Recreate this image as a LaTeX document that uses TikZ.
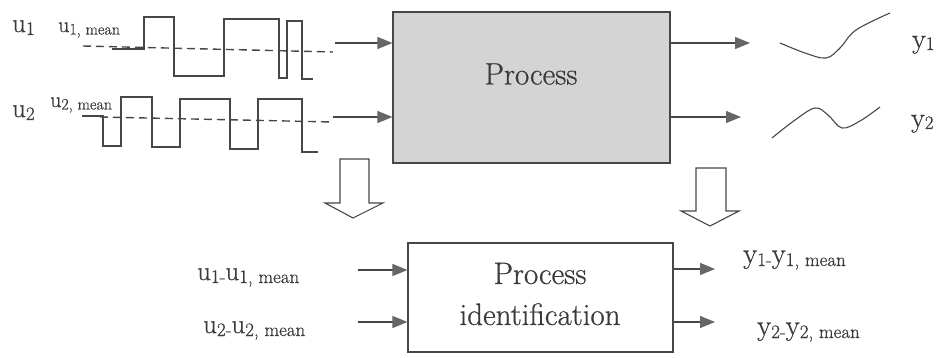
\documentclass[tikz,border=0pt]{standalone}
\usepackage{fontspec}
\setmainfont{Latin Modern Roman}
\newfontfamily\tms[FakeBold=0.6]{Latin Modern Roman}
\usetikzlibrary{arrows.meta}

% text with a lowered, smaller subscript part
\newcommand\fs[2]{{\tms\fontsize{#1}{#1}\selectfont #2}}
\newcommand\lowsub[3]{\raisebox{-#1pt}{\tms\fontsize{#2}{#2}\selectfont #3}}

\definecolor{ink}{HTML}{3A3A3A}
\definecolor{linegray}{HTML}{474747}
\definecolor{headgray}{HTML}{666666}
\definecolor{boxgray}{HTML}{D4D4D4}

\tikzset{
  procbox/.style={draw=linegray, line width=1.1pt, inner sep=0pt},
  lbl/.style={text=ink, inner sep=0pt, anchor=base west},
  sig/.style={draw=linegray, line width=1.1pt},
  meanline/.style={draw=linegray, line width=1.4pt, dash pattern=on 8pt off 5pt},
  arr/.style={draw=linegray, line width=1.2pt,
    -{Triangle[length=15pt,width=12pt,fill=headgray,color=headgray]}},
  wave/.style={draw=linegray, line width=1.1pt},
  bigarrow/.style={draw=linegray, line width=1.1pt, fill=white, line join=miter}
}

\begin{document}
\begin{tikzpicture}[x=1pt,y=-1pt]
\useasboundingbox (0,0) rectangle (942,358);

% ---------- process block ----------
\node[procbox, fill=boxgray, minimum width=277pt, minimum height=151pt]
  (proc) at (531.5,87.5) {};
\node[text=ink, inner sep=0pt] (proctxt) at (531,74) {\fs{31}{Process}};

% ---------- input signals ----------
\node[lbl] (u1) at (12,32) {\fs{27}{u\lowsub{3}{19}{1}}};
\node[lbl] (u2) at (12,117) {\fs{27}{u\lowsub{3}{19}{2}}};
\node[lbl] (u1m) at (58,32) {\fs{22}{u\lowsub{2.5}{16}{1, mean}}};
\node[lbl] (u2m) at (50,107) {\fs{22}{u\lowsub{2.5}{16}{2, mean}}};

\draw[sig] (112,49) -- (144,49) -- (144,17) -- (174,17) -- (174,76)
  -- (224,76) -- (224,19) -- (279,19) -- (279,78) -- (287,78) -- (287,21)
  -- (302,21) -- (302,79) -- (313,79);
\draw[meanline] (83,46) -- (333,52);

\draw[sig] (82,116) -- (103,116) -- (103,146) -- (121,146) -- (121,97)
  -- (152,97) -- (152,147) -- (180,147) -- (180,99) -- (230,99)
  -- (230,149) -- (258,149) -- (258,99) -- (302,99) -- (302,152) -- (318,152);
\draw[meanline] (100,117) -- (333,122);

\coordinate (in1) at (335,43);
\coordinate (in2) at (333,117);
\draw[arr] (in1) -- (in1 -| proc.west);
\draw[arr] (in2) -- (in2 -| proc.west);

% ---------- outputs ----------
\coordinate (out1) at (750,43);
\coordinate (out2) at (741,117);
\draw[arr] (out1 -| proc.east) -- (out1);
\draw[arr] (out2 -| proc.east) -- (out2);

\draw[wave] plot[smooth, tension=0.6] coordinates
  {(780,43) (805,53) (826,58) (840,48) (856,30) (890,13)};
\draw[wave] plot[smooth, tension=0.6] coordinates
  {(772,138) (795,120) (815,108) (828,115) (842,128) (860,121) (880,107)};

\node[lbl] (y1) at (912,48) {\fs{28}{y\lowsub{2}{19}{1}}};
\node[lbl] (y2) at (911,127) {\fs{28}{y\lowsub{2}{19}{2}}};

% ---------- transition arrows ----------
\draw[bigarrow] (340,159) -- (369,159) -- (369,203) -- (383,203) -- (353,218)
  -- (325,203) -- (340,203) -- cycle;
\draw[bigarrow] (696,168) -- (726,168) -- (726,211) -- (739,211) -- (710,226)
  -- (681,211) -- (696,211) -- cycle;

% ---------- identification block ----------
\node[procbox, fill=white, minimum width=265pt, minimum height=109pt]
  (ident) at (540.5,297.5) {};
\node[text=ink, inner sep=0pt, align=center, font=\tms\fontsize{31}{41}\selectfont]
  (identtxt) at (540,294) {Process\\identification};

\node[lbl] (d1) at (197,280) {\fs{27}{u\lowsub{3}{19}{1-}u\lowsub{3}{19}{1, mean}}};
\node[lbl] (d2) at (203,333) {\fs{27}{u\lowsub{3}{19}{2-}u\lowsub{3}{19}{2, mean}}};

\coordinate (iin1) at (358,270);
\coordinate (iin2) at (358,322);
\draw[arr] (iin1) -- (iin1 -| ident.west);
\draw[arr] (iin2) -- (iin2 -| ident.west);

\coordinate (iout1) at (715,269);
\coordinate (iout2) at (715,322);
\draw[arr] (iout1 -| ident.east) -- (iout1);
\draw[arr] (iout2 -| ident.east) -- (iout2);

\node[lbl] (e1) at (743,263) {\fs{29}{y\lowsub{3}{19}{1-}y\lowsub{3}{19}{1, mean}}};
\node[lbl] (e2) at (757,335) {\fs{29}{y\lowsub{3}{19}{2-}y\lowsub{3}{19}{2, mean}}};
\end{tikzpicture}
\end{document}
